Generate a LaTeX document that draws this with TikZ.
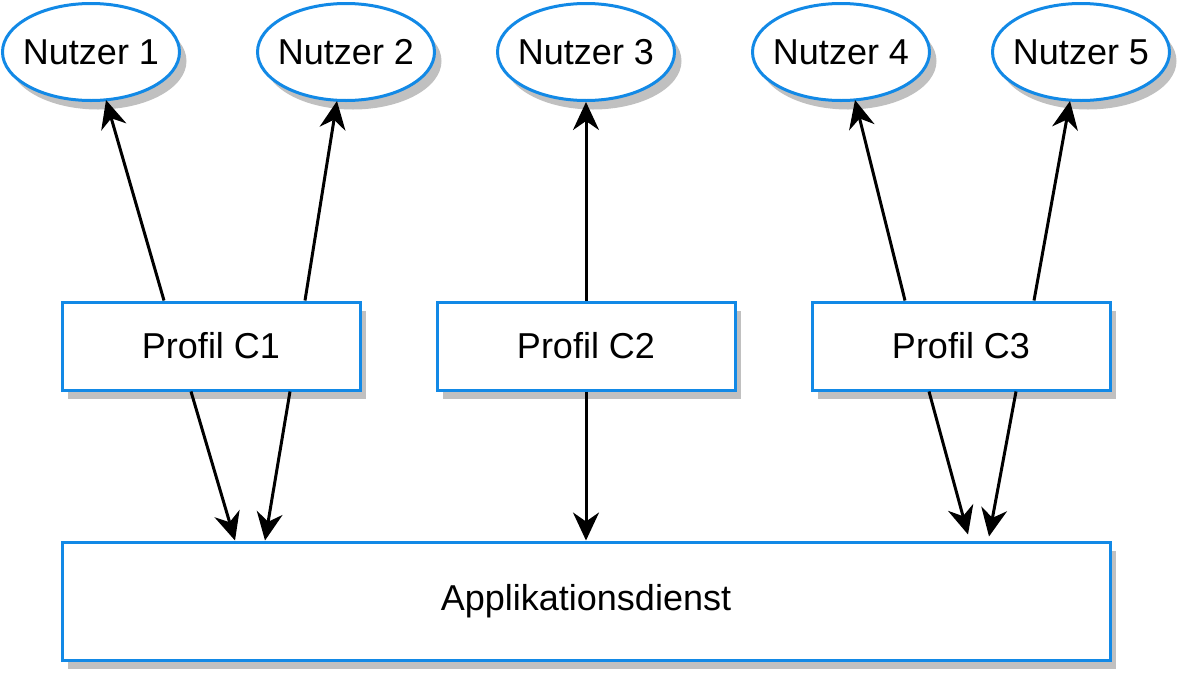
\documentclass[tikz,border=0pt]{standalone}
\usepackage{fontspec}
\setmainfont{Liberation Sans}
\usepackage{tikz}
\usetikzlibrary{shapes.geometric, shadows, arrows.meta}

\begin{document}
\begin{tikzpicture}[
  x=1pt, y=-1pt,
  every node/.style={
    align=center,
    font=\fontsize{36}{43}\selectfont,
  },
  nutzer/.style={
    ellipse,
    draw=blueline,
    line width=3pt,
    fill=white,
    minimum width=177pt,
    minimum height=97pt,
    inner xsep=-30pt,
    drop shadow={shadow xshift=7pt, shadow yshift=-9pt, fill=shadowgray, draw=none, opacity=1},
  },
  profil/.style={
    rectangle,
    draw=blueline,
    line width=3pt,
    fill=white,
    minimum width=298pt,
    minimum height=88pt,
    drop shadow={shadow xshift=6pt, shadow yshift=-9pt, fill=shadowgray, draw=none, opacity=1},
  },
  pfeil/.style={
    line width=3pt,
    -{Stealth[length=28pt, width=26pt, inset=9pt]},
  },
]
  \definecolor{blueline}{RGB}{18,137,230}
  \definecolor{shadowgray}{RGB}{192,192,192}
  \useasboundingbox (0,0) rectangle (1182,675);

  \node[nutzer] (n1) at (91,52) {Nutzer 1};
  \node[nutzer] (n2) at (346,52) {Nutzer 2};
  \node[nutzer] (n3) at (586,52) {Nutzer 3};
  \node[nutzer] (n4) at (841,52) {Nutzer 4};
  \node[nutzer] (n5) at (1081,52) {Nutzer 5};

  \node[profil] (c1) at (211,346) {Profil C1};
  \node[profil] (c2) at (586,346) {Profil C2};
  \node[profil] (c3) at (961,346) {Profil C3};

  \node[
    profil,
    minimum width=1048pt,
    minimum height=118pt,
  ] (app) at (586,601) {Applikationsdienst};

  % Profile -> Nutzer
  \draw[pfeil] ([xshift=-47pt]c1.north) -- ([xshift=15pt, yshift=2pt]n1.south);
  \draw[pfeil] ([xshift=94pt]c1.north) -- ([xshift=-9pt, yshift=1pt]n2.south);
  \draw[pfeil] (c2.north) -- (n3.south);
  \draw[pfeil] ([xshift=-56pt]c3.north) -- ([xshift=14pt, yshift=2pt]n4.south);
  \draw[pfeil] ([xshift=73pt]c3.north) -- ([xshift=-11pt, yshift=1pt]n5.south);

  % Profile -> Applikationsdienst
  \draw[pfeil] ([xshift=-20pt]c1.south) -- ([xshift=-351pt]app.north);
  \draw[pfeil] ([xshift=79pt]c1.south) -- ([xshift=-321pt]app.north);
  \draw[pfeil] (c2.south) -- (app.north);
  \draw[pfeil] ([xshift=-32pt]c3.south) -- ([xshift=382pt, yshift=6pt]app.north);
  \draw[pfeil] ([xshift=55pt]c3.south) -- ([xshift=403pt, yshift=4pt]app.north);
\end{tikzpicture}
\end{document}
